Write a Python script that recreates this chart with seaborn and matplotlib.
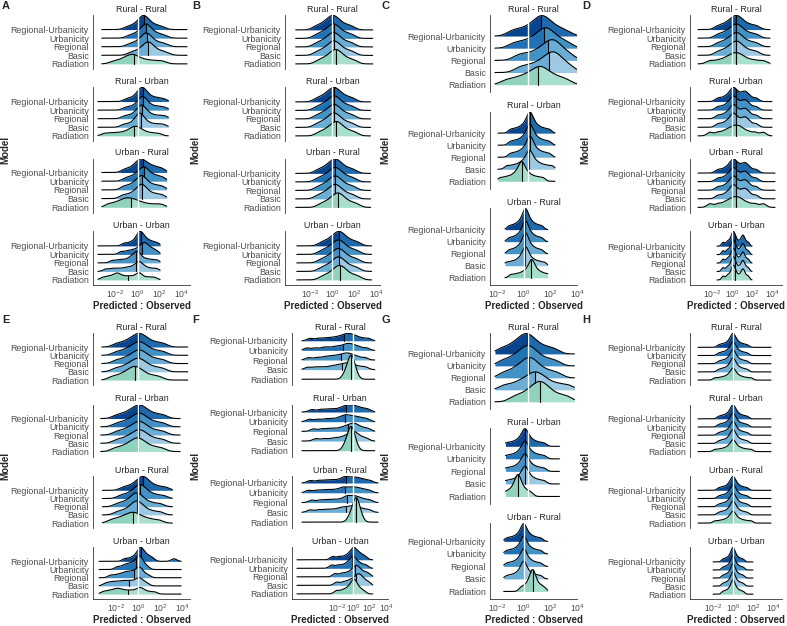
import numpy as np
import matplotlib
matplotlib.use("Agg")
import matplotlib.pyplot as plt
import seaborn as sns
from seaborn._statistics import KDE

# -- Labels --
models = ["Radiation", "Basic", "Regional", "Urbanicity", "Regional-Urbanicity"]
tick_values = [-2, 0, 2, 4]
tick_labels = ["$10^{-2}$", "$10^{0}$", "$10^{2}$", "$10^{4}$"]

panel_A = {
    "Rural - Rural": [
        [-2.2, -1.6, -1.2, -0.9, -0.7, -0.5, -0.3, -0.1, 0.2, 0.6, 1.1, 1.7, 2.3],
        [-0.6, -0.1, 0.3, 0.55, 0.75, 0.9, 0.95, 1.05, 1.2, 1.4, 1.7, 2.1, 2.6],
        [-0.7, -0.2, 0.2, 0.45, 0.6, 0.75, 0.8, 0.9, 1.05, 1.25, 1.55, 2.0, 2.5],
        [-0.7, -0.2, 0.2, 0.45, 0.6, 0.7, 0.77, 0.87, 1.0, 1.2, 1.5, 1.9, 2.4],
        [-0.9, -0.4, 0.0, 0.25, 0.4, 0.5, 0.55, 0.65, 0.8, 1.0, 1.3, 1.7, 2.2]],
    "Rural - Urban": [
        [-3.0, -2.4, -1.9, -1.4, -1.0, -0.7, -0.5, -0.3, -0.15, 0.0, 0.2, 0.45, 0.8, 1.3, 1.9],
        [-1.3, -0.8, -0.4, -0.15, 0.0, 0.1, 0.2, 0.25, 0.35, 0.5, 0.7, 1.0, 1.4, 1.9, 2.4],
        [-1.2, -0.7, -0.3, -0.05, 0.1, 0.25, 0.35, 0.4, 0.5, 0.65, 0.85, 1.1, 1.5, 2.0, 2.5],
        [-1.1, -0.6, -0.2, 0.05, 0.2, 0.35, 0.45, 0.5, 0.6, 0.75, 0.95, 1.2, 1.6, 2.0, 2.5],
        [-1.0, -0.5, -0.15, 0.05, 0.2, 0.3, 0.42, 0.5, 0.58, 0.7, 0.9, 1.15, 1.5, 1.9, 2.4]],
    "Urban - Rural": [
        [-2.7, -2.2, -1.8, -1.5, -1.25, -1.05, -0.85, -0.6, -0.4, -0.15, 0.15, 0.5, 1.0, 1.6, 2.2],
        [-1.4, -0.9, -0.5, -0.2, 0.0, 0.15, 0.3, 0.4, 0.5, 0.65, 0.85, 1.1, 1.45, 1.85, 2.3],
        [-1.3, -0.85, -0.45, -0.2, 0.0, 0.15, 0.3, 0.4, 0.5, 0.65, 0.85, 1.1, 1.45, 1.85, 2.3],
        [-1.1, -0.6, -0.25, 0.0, 0.2, 0.35, 0.5, 0.6, 0.7, 0.85, 1.05, 1.3, 1.6, 1.95, 2.35],
        [-1.2, -0.7, -0.35, -0.1, 0.05, 0.2, 0.33, 0.45, 0.6, 0.8, 1.0, 1.25, 1.55, 1.9, 2.3]],
    "Urban - Urban": [
        [-3.2, -2.8, -2.5, -2.2, -2.0, -1.85, -1.7, -1.5, -1.2, -0.9, -0.6, -0.3, 0.0, 0.1, 0.2, 0.4, 0.8, 1.2, 1.6],
        [-2.9, -2.4, -2.0, -1.6, -1.2, -0.9, -0.6, -0.35, -0.15, 0.0, 0.1, 0.2, 0.3, 0.5, 0.7, 1.0, 1.4, 1.8],
        [-2.3, -1.8, -1.4, -1.0, -0.7, -0.5, -0.35, -0.2, -0.1, 0.0, 0.1, 0.2, 0.4, 0.7, 1.0, 1.4, 1.8],
        [-1.5, -1.0, -0.6, -0.3, 0.0, 0.2, 0.35, 0.5, 0.6, 0.7, 0.85, 1.0, 1.2, 1.45, 1.75],
        [-1.2, -0.7, -0.35, -0.1, 0.05, 0.12, 0.2, 0.3, 0.4, 0.5, 0.65, 0.85, 1.1, 1.4, 1.8]],
}
panel_B = {
    "Rural - Rural": [
        [-1.25, -0.75, -0.4, -0.15, 0.05, 0.2, 0.35, 0.5, 0.65, 0.85, 1.15, 1.55, 2.05],
        [-1.4, -0.9, -0.55, -0.3, -0.1, 0.05, 0.2, 0.35, 0.5, 0.7, 1.0, 1.4, 1.9],
        [-1.45, -0.95, -0.6, -0.35, -0.15, 0.0, 0.15, 0.3, 0.45, 0.65, 0.95, 1.35, 1.85],
        [-1.45, -0.95, -0.6, -0.35, -0.15, 0.0, 0.15, 0.3, 0.45, 0.65, 0.95, 1.35, 1.85],
        [-1.5, -1.0, -0.65, -0.4, -0.2, -0.05, 0.1, 0.25, 0.4, 0.6, 0.9, 1.3, 1.8]],
    "Rural - Urban": [
        [-1.2, -0.7, -0.35, -0.1, 0.1, 0.25, 0.4, 0.55, 0.7, 0.9, 1.2, 1.6, 2.1],
        [-1.4, -0.9, -0.55, -0.3, -0.1, 0.05, 0.2, 0.35, 0.5, 0.7, 1.0, 1.4, 1.9],
        [-1.4, -0.9, -0.55, -0.3, -0.1, 0.05, 0.2, 0.35, 0.5, 0.7, 1.0, 1.4, 1.9],
        [-1.4, -0.9, -0.55, -0.3, -0.1, 0.05, 0.2, 0.35, 0.5, 0.7, 1.0, 1.4, 1.9],
        [-1.4, -0.9, -0.55, -0.3, -0.1, 0.05, 0.2, 0.35, 0.5, 0.7, 1.0, 1.4, 1.9]],
    "Urban - Rural": [
        [-1.05, -0.55, -0.2, 0.05, 0.25, 0.4, 0.55, 0.7, 0.85, 1.05, 1.35, 1.75, 2.25],
        [-1.3, -0.8, -0.45, -0.2, 0.0, 0.15, 0.3, 0.45, 0.6, 0.8, 1.1, 1.5, 2.0],
        [-1.3, -0.8, -0.45, -0.2, 0.0, 0.15, 0.3, 0.45, 0.6, 0.8, 1.1, 1.5, 2.0],
        [-1.3, -0.8, -0.45, -0.2, 0.0, 0.15, 0.3, 0.45, 0.6, 0.8, 1.1, 1.5, 2.0],
        [-1.3, -0.8, -0.45, -0.2, 0.0, 0.15, 0.3, 0.45, 0.6, 0.8, 1.1, 1.5, 2.0]],
    "Urban - Urban": [
        [-0.9, -0.4, -0.05, 0.2, 0.4, 0.55, 0.7, 0.85, 1.0, 1.2, 1.5, 1.9, 2.4],
        [-1.0, -0.5, -0.15, 0.1, 0.3, 0.45, 0.6, 0.75, 0.9, 1.1, 1.4, 1.8, 2.3],
        [-1.0, -0.5, -0.15, 0.1, 0.3, 0.45, 0.6, 0.75, 0.9, 1.1, 1.4, 1.8, 2.3],
        [-1.0, -0.5, -0.15, 0.1, 0.3, 0.45, 0.6, 0.75, 0.9, 1.1, 1.4, 1.8, 2.3],
        [-0.95, -0.45, -0.1, 0.15, 0.35, 0.5, 0.65, 0.8, 0.95, 1.15, 1.45, 1.85, 2.35]],
}
panel_C = {
    "Rural - Rural": [
        [-1.5, -0.9, -0.45, -0.1, 0.2, 0.45, 0.65, 0.8, 0.95, 1.15, 1.4, 1.7, 2.1, 2.6],
        [-0.6, -0.1, 0.35, 0.7, 1.0, 1.2, 1.4, 1.55, 1.7, 1.85, 2.0, 2.2, 2.5, 2.9],
        [-0.7, -0.2, 0.3, 0.65, 0.95, 1.15, 1.35, 1.5, 1.65, 1.8, 1.95, 2.15, 2.45, 2.85],
        [-1.0, -0.45, 0.0, 0.35, 0.65, 0.85, 1.0, 1.15, 1.3, 1.45, 1.65, 1.9, 2.25, 2.7],
        [-1.1, -0.6, -0.15, 0.2, 0.45, 0.65, 0.8, 0.95, 1.1, 1.25, 1.45, 1.75, 2.1, 2.6]],
    "Rural - Urban": [
        [-1.85, -1.52, -1.25, -1.02, -0.86, -0.72, -0.61, -0.53, -0.46, -0.42, -0.38, -0.31, -0.23, -0.12, 0.02, 0.18, 0.41, 0.68, 1.01],
        [-1.4, -1.05, -0.76, -0.53, -0.36, -0.21, -0.1, -0.02, 0.05, 0.1, 0.15, 0.22, 0.3, 0.41, 0.56, 0.73, 0.96, 1.25, 1.6],
        [-1.17, -0.87, -0.62, -0.42, -0.27, -0.14, -0.04, 0.03, 0.09, 0.13, 0.17, 0.23, 0.3, 0.4, 0.53, 0.68, 0.88, 1.13, 1.43],
        [-1.17, -0.87, -0.62, -0.42, -0.27, -0.14, -0.04, 0.03, 0.09, 0.13, 0.17, 0.23, 0.3, 0.4, 0.53, 0.68, 0.88, 1.13, 1.43],
        [-1.17, -0.87, -0.62, -0.42, -0.27, -0.14, -0.04, 0.03, 0.09, 0.13, 0.17, 0.23, 0.3, 0.4, 0.53, 0.68, 0.88, 1.13, 1.43]],
    "Urban - Rural": [
        [-0.96, -0.6, -0.3, -0.06, 0.12, 0.28, 0.4, 0.48, 0.55, 0.6, 0.65, 0.72, 0.8, 0.92, 1.08, 1.26, 1.5, 1.8, 2.16],
        [-1.3, -0.97, -0.7, -0.47, -0.31, -0.17, -0.06, 0.02, 0.09, 0.13, 0.17, 0.24, 0.32, 0.43, 0.57, 0.74, 0.96, 1.23, 1.56],
        [-1.11, -0.82, -0.58, -0.39, -0.25, -0.13, -0.03, 0.04, 0.09, 0.13, 0.17, 0.23, 0.29, 0.39, 0.51, 0.65, 0.84, 1.08, 1.37],
        [-1.11, -0.82, -0.58, -0.39, -0.25, -0.13, -0.03, 0.04, 0.09, 0.13, 0.17, 0.23, 0.29, 0.39, 0.51, 0.65, 0.84, 1.08, 1.37],
        [-1.11, -0.82, -0.58, -0.39, -0.25, -0.13, -0.03, 0.04, 0.09, 0.13, 0.17, 0.23, 0.29, 0.39, 0.51, 0.65, 0.84, 1.08, 1.37]],
}
panel_D = {
    "Rural - Rural": [
        [-2.2, -1.4, -0.8, -0.4, -0.08, 0.16, 0.4, 0.64, 0.88, 1.2, 1.68, 2.32, 3.12],
        [-1.45, -0.85, -0.45, -0.15, 0.09, 0.27, 0.45, 0.63, 0.81, 1.05, 1.41, 1.89, 2.49],
        [-1.45, -0.85, -0.45, -0.15, 0.09, 0.27, 0.45, 0.63, 0.81, 1.05, 1.41, 1.89, 2.49],
        [-1.45, -0.85, -0.45, -0.15, 0.09, 0.27, 0.45, 0.63, 0.81, 1.05, 1.41, 1.89, 2.49],
        [-1.45, -0.85, -0.45, -0.15, 0.09, 0.27, 0.45, 0.63, 0.81, 1.05, 1.41, 1.89, 2.49]],
    "Rural - Urban": [
        [-2.2, -1.4, -0.8, -0.4, -0.08, 0.16, 0.4, 0.64, 0.88, 1.2, 1.68, 2.32, 3.12],
        [-1.4, -0.8, -0.4, -0.1, 0.05, 0.15, 0.3, 0.5, 0.8, 1.1, 1.3, 1.45, 1.8, 2.4],
        [-1.4, -0.8, -0.4, -0.1, 0.05, 0.15, 0.3, 0.5, 0.8, 1.1, 1.3, 1.45, 1.8, 2.4],
        [-1.4, -0.8, -0.4, -0.1, 0.05, 0.15, 0.3, 0.5, 0.8, 1.1, 1.3, 1.45, 1.8, 2.4],
        [-1.4, -0.8, -0.4, -0.1, 0.05, 0.15, 0.3, 0.5, 0.8, 1.1, 1.3, 1.45, 1.8, 2.4]],
    "Urban - Rural": [
        [-2.2, -1.4, -0.8, -0.4, -0.08, 0.16, 0.4, 0.64, 0.88, 1.2, 1.68, 2.32, 3.12],
        [-1.4, -0.8, -0.4, -0.1, 0.05, 0.15, 0.3, 0.5, 0.8, 1.1, 1.3, 1.45, 1.8, 2.4],
        [-1.4, -0.8, -0.4, -0.1, 0.05, 0.15, 0.3, 0.5, 0.8, 1.1, 1.3, 1.45, 1.8, 2.4],
        [-1.4, -0.8, -0.4, -0.1, 0.05, 0.15, 0.3, 0.5, 0.8, 1.1, 1.3, 1.45, 1.8, 2.4],
        [-1.4, -0.8, -0.4, -0.1, 0.05, 0.15, 0.3, 0.5, 0.8, 1.1, 1.3, 1.45, 1.8, 2.4]],
    "Urban - Urban": [
        [-0.9, -0.5, -0.25, -0.05, 0.05, 0.12, 0.2, 0.3, 0.45, 0.7, 0.95, 1.05, 1.15, 1.3, 1.6],
        [-0.9, -0.5, -0.25, -0.05, 0.05, 0.12, 0.2, 0.3, 0.45, 0.7, 0.95, 1.05, 1.15, 1.3, 1.6],
        [-0.9, -0.5, -0.25, -0.05, 0.05, 0.12, 0.2, 0.3, 0.45, 0.7, 0.95, 1.05, 1.15, 1.3, 1.6],
        [-0.9, -0.5, -0.25, -0.05, 0.05, 0.12, 0.2, 0.3, 0.45, 0.7, 0.95, 1.05, 1.15, 1.3, 1.6],
        [-0.9, -0.5, -0.25, -0.05, 0.05, 0.12, 0.2, 0.3, 0.45, 0.7, 0.95, 1.05, 1.15, 1.3, 1.6]],
}
panel_E = {
    "Rural - Rural": [
        [-2.38, -1.73, -1.28, -0.95, -0.69, -0.5, -0.3, -0.1, 0.09, 0.35, 0.74, 1.26, 1.91],
        [-2.08, -1.43, -0.98, -0.65, -0.39, -0.2, 0.0, 0.2, 0.39, 0.65, 1.04, 1.56, 2.21],
        [-1.98, -1.33, -0.88, -0.55, -0.29, -0.1, 0.1, 0.3, 0.49, 0.75, 1.14, 1.66, 2.31],
        [-1.98, -1.33, -0.88, -0.55, -0.29, -0.1, 0.1, 0.3, 0.49, 0.75, 1.14, 1.66, 2.31],
        [-1.98, -1.33, -0.88, -0.55, -0.29, -0.1, 0.1, 0.3, 0.49, 0.75, 1.14, 1.66, 2.31]],
    "Rural - Urban": [
        [-2.13, -1.48, -1.03, -0.7, -0.44, -0.25, -0.05, 0.15, 0.34, 0.6, 0.99, 1.51, 2.16],
        [-1.98, -1.33, -0.88, -0.55, -0.29, -0.1, 0.1, 0.3, 0.49, 0.75, 1.14, 1.66, 2.31],
        [-1.98, -1.33, -0.88, -0.55, -0.29, -0.1, 0.1, 0.3, 0.49, 0.75, 1.14, 1.66, 2.31],
        [-1.98, -1.33, -0.88, -0.55, -0.29, -0.1, 0.1, 0.3, 0.49, 0.75, 1.14, 1.66, 2.31],
        [-1.98, -1.33, -0.88, -0.55, -0.29, -0.1, 0.1, 0.3, 0.49, 0.75, 1.14, 1.66, 2.31]],
    "Urban - Rural": [
        [-2.5, -1.9, -1.5, -1.15, -0.9, -0.65, -0.45, -0.25, 0.0, 0.3, 0.7, 1.2, 1.9],
        [-1.9, -1.3, -0.9, -0.6, -0.4, -0.25, -0.1, 0.05, 0.2, 0.45, 0.8, 1.3, 2.0],
        [-1.9, -1.3, -0.9, -0.6, -0.4, -0.25, -0.1, 0.05, 0.2, 0.45, 0.8, 1.3, 2.0],
        [-1.6, -1.0, -0.6, -0.3, -0.1, 0.05, 0.2, 0.35, 0.5, 0.75, 1.1, 1.6, 2.3],
        [-1.35, -0.75, -0.35, -0.05, 0.15, 0.3, 0.45, 0.6, 0.75, 1.0, 1.35, 1.85, 2.5]],
    "Urban - Urban": [
        [-3.2, -2.8, -2.5, -2.2, -2.0, -1.8, -1.6, -1.35, -1.05, -0.75, -0.45, -0.15, 0.05, 0.2, 0.35, 0.6, 1.0, 1.5],
        [-3.0, -2.6, -2.3, -2.0, -1.7, -1.45, -1.2, -0.95, -0.7, -0.45, -0.2, 0.0, 0.1, 0.25, 0.45, 0.8],
        [-2.5, -2.0, -1.6, -1.3, -1.05, -0.85, -0.6, -0.4, -0.2, 0.0, 0.08, 0.15, 0.3, 0.5, 0.9],
        [-1.9, -1.4, -1.1, -0.85, -0.6, -0.4, -0.2, -0.05, 0.05, 0.12, 0.2, 0.3, 0.5, 0.8],
        [-1.2, -0.7, -0.35, -0.1, 0.05, 0.15, 0.22, 0.3, 0.4, 0.55, 0.75, 1.0, 1.3, 3.25]],
}
panel_F = {
    "Rural - Rural": [
        [-1.0, -0.6, -0.4, -0.3, -0.25, -0.15, 0.0, 0.3],
        [-5.5, -4.6, -3.8, -3.0, -2.4, -1.9, -1.5, -1.1, -0.8, -0.5, -0.2, 0.2, 0.8, 1.5],
        [-5.4, -4.4, -3.6, -3.0, -2.5, -2.0, -1.6, -1.2, -0.9, -0.6, -0.3, 0.1, 0.6, 1.4],
        [-5.6, -4.6, -3.7, -3.1, -2.4, -1.9, -1.4, -1.0, -0.7, -0.4, -0.1, 0.3, 0.8, 1.6],
        [-5.2, -4.2, -3.4, -2.7, -2.1, -1.6, -1.2, -0.9, -0.6, -0.3, 0.0, 0.4, 1.0, 1.8]],
    "Rural - Urban": [
        [-1.0, -0.6, -0.4, -0.3, -0.25, -0.15, 0.0, 0.3],
        [-4.5, -3.5, -2.6, -1.9, -1.3, -0.9, -0.5, -0.3, -0.1, 0.1, 0.3, 0.6, 1.0, 1.6],
        [-4.8, -3.8, -3.0, -2.3, -1.6, -1.1, -0.7, -0.4, -0.1, 0.1, 0.4, 0.7, 1.2, 1.8],
        [-5.3, -4.3, -3.4, -2.7, -2.0, -1.5, -1.1, -0.9, -0.5, -0.2, 0.2, 0.6, 1.1, 1.7],
        [-5.0, -4.0, -3.2, -2.5, -1.8, -1.3, -0.9, -0.7, -0.3, 0.0, 0.3, 0.7, 1.2, 1.8]],
    "Urban - Rural": [
        [-0.4, 0.0, 0.2, 0.3, 0.35, 0.45, 0.6, 0.9],
        [-5.2, -4.2, -3.4, -2.7, -2.0, -1.5, -1.1, -0.7, -0.3, 0.0, 0.3, 0.7, 1.2, 1.9],
        [-5.0, -4.0, -3.2, -2.5, -1.8, -1.2, -0.8, -0.6, -0.2, 0.1, 0.4, 0.8, 1.3, 2.0],
        [-5.4, -4.4, -3.6, -2.9, -2.2, -1.6, -1.2, -0.9, -0.4, -0.1, 0.3, 0.7, 1.2, 1.9],
        [-5.2, -4.2, -3.4, -2.7, -2.0, -1.4, -1.0, -0.8, -0.3, 0.0, 0.4, 0.8, 1.3, 2.0]],
    "Urban - Urban": [
        [-2.0, -1.3, -0.8, -0.45, -0.2, 0.0, 0.1, 0.2, 0.4, 0.7, 1.2],
        [-2.0, -1.2, -0.6, -0.2, 0.2, 0.4, 0.6, 0.8, 1.0, 1.3, 1.8],
        [-2.2, -1.4, -0.8, -0.3, 0.0, 0.3, 0.4, 0.6, 0.9, 1.3, 1.8],
        [-2.6, -1.8, -1.1, -0.6, -0.3, -0.1, 0.0, 0.2, 0.5, 0.9, 1.5],
        [-2.5, -1.7, -1.0, -0.5, -0.2, 0.0, 0.1, 0.3, 0.6, 0.9, 1.4]],
}
panel_G = {
    "Rural - Rural": [
        [-0.96, -0.41, -0.03, 0.25, 0.47, 0.64, 0.8, 0.97, 1.13, 1.35, 1.68, 2.12, 2.67],
        [-1.58, -0.93, -0.48, -0.15, 0.11, 0.3, 0.5, 0.7, 0.89, 1.15, 1.54, 2.06, 2.71],
        [-1.66, -1.11, -0.73, -0.45, -0.23, -0.07, 0.1, 0.27, 0.43, 0.65, 0.98, 1.42, 1.97],
        [-1.76, -1.21, -0.83, -0.55, -0.33, -0.17, 0.0, 0.17, 0.33, 0.55, 0.88, 1.32, 1.87],
        [-1.86, -1.31, -0.93, -0.65, -0.43, -0.27, -0.1, 0.07, 0.23, 0.45, 0.78, 1.22, 1.77]],
    "Rural - Urban": [
        [-1.58, -1.37, -1.2, -1.06, -0.95, -0.86, -0.79, -0.74, -0.7, -0.67, -0.64, -0.6, -0.55, -0.48, -0.39, -0.29, -0.15, 0.03, 0.24],
        [-1.5, -1.2, -0.95, -0.75, -0.6, -0.47, -0.37, -0.3, -0.24, -0.2, -0.16, -0.1, -0.03, 0.07, 0.2, 0.35, 0.55, 0.8, 1.1],
        [-1.5, -1.2, -0.95, -0.75, -0.6, -0.47, -0.37, -0.3, -0.24, -0.2, -0.16, -0.1, -0.03, 0.07, 0.2, 0.35, 0.55, 0.8, 1.1],
        [-1.5, -1.2, -0.95, -0.75, -0.6, -0.47, -0.37, -0.3, -0.24, -0.2, -0.16, -0.1, -0.03, 0.07, 0.2, 0.35, 0.55, 0.8, 1.1],
        [-1.5, -1.2, -0.95, -0.75, -0.6, -0.47, -0.37, -0.3, -0.24, -0.2, -0.16, -0.1, -0.03, 0.07, 0.2, 0.35, 0.55, 0.8, 1.1]],
    "Urban - Rural": [
        [-0.24, -0.03, 0.15, 0.29, 0.39, 0.48, 0.55, 0.6, 0.64, 0.67, 0.7, 0.74, 0.79, 0.86, 0.95, 1.06, 1.2, 1.37, 1.58],
        [-1.3, -1.0, -0.75, -0.55, -0.4, -0.27, -0.17, -0.1, -0.04, 0.0, 0.04, 0.1, 0.17, 0.27, 0.4, 0.55, 0.75, 1.0, 1.3],
        [-1.3, -1.0, -0.75, -0.55, -0.4, -0.27, -0.17, -0.1, -0.04, 0.0, 0.04, 0.1, 0.17, 0.27, 0.4, 0.55, 0.75, 1.0, 1.3],
        [-1.3, -1.0, -0.75, -0.55, -0.4, -0.27, -0.17, -0.1, -0.04, 0.0, 0.04, 0.1, 0.17, 0.27, 0.4, 0.55, 0.75, 1.0, 1.3],
        [-1.3, -1.0, -0.75, -0.55, -0.4, -0.27, -0.17, -0.1, -0.04, 0.0, 0.04, 0.1, 0.17, 0.27, 0.4, 0.55, 0.75, 1.0, 1.3]],
}
panel_H = {
    "Rural - Rural": [
        [-1.82, -1.4, -1.05, -0.77, -0.56, -0.38, -0.24, -0.14, -0.06, 0.0, 0.06, 0.14, 0.24, 0.38, 0.56, 0.77, 1.05, 1.4, 1.82],
        [-1.43, -1.1, -0.83, -0.6, -0.44, -0.3, -0.19, -0.11, -0.04, 0.0, 0.04, 0.11, 0.19, 0.3, 0.44, 0.6, 0.83, 1.1, 1.43],
        [-1.43, -1.1, -0.83, -0.6, -0.44, -0.3, -0.19, -0.11, -0.04, 0.0, 0.04, 0.11, 0.19, 0.3, 0.44, 0.6, 0.83, 1.1, 1.43],
        [-1.43, -1.1, -0.83, -0.6, -0.44, -0.3, -0.19, -0.11, -0.04, 0.0, 0.04, 0.11, 0.19, 0.3, 0.44, 0.6, 0.83, 1.1, 1.43],
        [-1.43, -1.1, -0.83, -0.6, -0.44, -0.3, -0.19, -0.11, -0.04, 0.0, 0.04, 0.11, 0.19, 0.3, 0.44, 0.6, 0.83, 1.1, 1.43]],
    "Rural - Urban": [
        [-1.82, -1.4, -1.05, -0.77, -0.56, -0.38, -0.24, -0.14, -0.06, 0.0, 0.06, 0.14, 0.24, 0.38, 0.56, 0.77, 1.05, 1.4, 1.82],
        [-1.43, -1.1, -0.83, -0.6, -0.44, -0.3, -0.19, -0.11, -0.04, 0.0, 0.04, 0.11, 0.19, 0.3, 0.44, 0.6, 0.83, 1.1, 1.43],
        [-1.43, -1.1, -0.83, -0.6, -0.44, -0.3, -0.19, -0.11, -0.04, 0.0, 0.04, 0.11, 0.19, 0.3, 0.44, 0.6, 0.83, 1.1, 1.43],
        [-1.43, -1.1, -0.83, -0.6, -0.44, -0.3, -0.19, -0.11, -0.04, 0.0, 0.04, 0.11, 0.19, 0.3, 0.44, 0.6, 0.83, 1.1, 1.43],
        [-1.43, -1.1, -0.83, -0.6, -0.44, -0.3, -0.19, -0.11, -0.04, 0.0, 0.04, 0.11, 0.19, 0.3, 0.44, 0.6, 0.83, 1.1, 1.43]],
    "Urban - Rural": [
        [-1.82, -1.4, -1.05, -0.77, -0.56, -0.38, -0.24, -0.14, -0.06, 0.0, 0.06, 0.14, 0.24, 0.38, 0.56, 0.77, 1.05, 1.4, 1.82],
        [-1.43, -1.1, -0.83, -0.6, -0.44, -0.3, -0.19, -0.11, -0.04, 0.0, 0.04, 0.11, 0.19, 0.3, 0.44, 0.6, 0.83, 1.1, 1.43],
        [-1.43, -1.1, -0.83, -0.6, -0.44, -0.3, -0.19, -0.11, -0.04, 0.0, 0.04, 0.11, 0.19, 0.3, 0.44, 0.6, 0.83, 1.1, 1.43],
        [-1.43, -1.1, -0.83, -0.6, -0.44, -0.3, -0.19, -0.11, -0.04, 0.0, 0.04, 0.11, 0.19, 0.3, 0.44, 0.6, 0.83, 1.1, 1.43],
        [-1.43, -1.1, -0.83, -0.6, -0.44, -0.3, -0.19, -0.11, -0.04, 0.0, 0.04, 0.11, 0.19, 0.3, 0.44, 0.6, 0.83, 1.1, 1.43]],
    "Urban - Urban": [
        [-1.04, -0.8, -0.6, -0.44, -0.32, -0.22, -0.14, -0.08, -0.03, 0.0, 0.03, 0.08, 0.14, 0.22, 0.32, 0.44, 0.6, 0.8, 1.04],
        [-1.04, -0.8, -0.6, -0.44, -0.32, -0.22, -0.14, -0.08, -0.03, 0.0, 0.03, 0.08, 0.14, 0.22, 0.32, 0.44, 0.6, 0.8, 1.04],
        [-1.04, -0.8, -0.6, -0.44, -0.32, -0.22, -0.14, -0.08, -0.03, 0.0, 0.03, 0.08, 0.14, 0.22, 0.32, 0.44, 0.6, 0.8, 1.04],
        [-1.04, -0.8, -0.6, -0.44, -0.32, -0.22, -0.14, -0.08, -0.03, 0.0, 0.03, 0.08, 0.14, 0.22, 0.32, 0.44, 0.6, 0.8, 1.04],
        [-1.04, -0.8, -0.6, -0.44, -0.32, -0.22, -0.14, -0.08, -0.03, 0.0, 0.03, 0.08, 0.14, 0.22, 0.32, 0.44, 0.6, 0.8, 1.04]],
}

# -- range of the data in each facet (baseline extent), log10 --
span_A = [(-3.25, 4.5), (-3.6, 2.8), (-3.25, 2.65), (-3.6, 2.05)]
span_B = [(-3.3, 3.7), (-3.3, 3.5), (-3.3, 3.5), (-3.2, 3.6)]
span_C = [(-2.2, 3.25), (-2.0, 1.8), (-1.4, 1.8)]
span_D = [(-3.4, 3.8), (-3.4, 4.0), (-3.4, 4.3), (-1.5, 2.0)]
span_E = [(-3.3, 4.5), (-3.4, 3.8), (-3.25, 3.1), (-3.55, 3.9)]
span_F = [(-6.2, 2.6), (-6.2, 2.6), (-6.2, 3.0), (-6.8, 2.35)]
span_G = [(-2.2, 3.1), (-1.5, 2.1), (-1.5, 1.8)]
span_H = [(-3.5, 3.8), (-3.5, 3.8), (-3.5, 3.8), (-2.0, 2.0)]

# -- tallest ridge per facet, in rows --
peak_A = [1.65, 1.65, 1.65, 1.7]
peak_B = [1.7, 1.7, 1.7, 1.7]
peak_C = [1.7, 1.75, 1.75]
peak_D = [1.65, 1.65, 1.65, 1.75]
peak_E = [1.65, 1.65, 1.7, 1.7]
peak_F = [2.5, 2.5, 2.5, 1.7]
peak_G = [1.7, 1.75, 1.75]
peak_H = [1.7, 1.7, 1.7, 1.8]

# kernel bandwidth (log10 units) per facet
bw_A = [0.4, 0.32, 0.32, 0.25]
bw_B = [0.38, 0.38, 0.38, 0.38]
bw_C = [0.4, 0.17, 0.17]
bw_D = [0.38, 0.3, 0.3, 0.15]
bw_E = [0.42, 0.42, 0.38, 0.25]
bw_F = [0.38, 0.38, 0.38, 0.32]
bw_G = [0.38, 0.17, 0.17]
bw_H = [0.2, 0.2, 0.2, 0.15]

fill_low = ["#8fd3bf", "#6aaed6", "#4292c6", "#2171b5", "#08458f"]
fill_high = ["#a8dfce", "#9dc9e2", "#6aaed6", "#4292c6", "#1f69ad"]

sns.set_theme(style="white")
plt.rcParams["font.family"] = ["Liberation Sans", "DejaVu Sans"]
plt.rcParams["mathtext.default"] = "regular"

W, H = 787, 626
fig = plt.figure(figsize=(W / 100, H / 100), dpi=100)

# facet frames in pixels: (tops, height) for each row and facet count
frames = {
    (0, 4): ([15, 87, 158.5, 231], 54),
    (0, 3): ([15, 111.5, 208], 77),
    (1, 4): ([333, 404.5, 476, 547], 52),
    (1, 3): ([333, 428, 523], 76),
}


def ridge_density(samples, lo, hi, bw):
    x = np.asarray(samples, dtype=float)
    kde = KDE(bw_method=bw / x.std(ddof=1))
    kde.support = np.linspace(lo, hi, 400)
    dens, grid = kde(x)
    return grid, dens


def draw_panel(letter, data, spans, peaks, bws, px, xlim, row):
    x0, x1 = px
    names = list(data.keys())
    tops, h = frames[(row, len(names))]
    for k, name in enumerate(names):
        top = tops[k]
        ax = fig.add_axes([x0 / W, 1 - (top + h) / H, (x1 - x0) / W, h / H])
        lo, hi = spans[k]
        curves = [ridge_density(s, lo, hi, bws[k]) for s in data[name]]
        dmax = max(d.max() for _, d in curves)
        ytop = 0
        for i in range(4, -1, -1):
            grid, dens = curves[i]
            hgt = dens / dmax * peaks[k]
            base = i + 1
            ytop = max(ytop, base + hgt.max())
            cdf = np.cumsum(dens)
            cdf /= cdf[-1]
            med = np.interp(0.5, cdf, grid)
            z = (5 - i) * 3
            low = grid <= med
            ax.fill_between(grid[low], base, base + hgt[low], color=fill_low[i], lw=0, zorder=z)
            high = grid >= med - (grid[1] - grid[0])
            ax.fill_between(grid[high], base, base + hgt[high], color=fill_high[i], lw=0, zorder=z)
            ax.plot(grid, base + hgt, color="black", lw=0.8, zorder=z + 1)
            ax.plot([med, med], [base, base + np.interp(med, grid, hgt)],
                    color="black", lw=0.8, zorder=z + 1)
        ax.axvline(0, color="white", lw=1.0, zorder=50)
        ax.set_xlim(xlim)
        ax.set_ylim(0.4, ytop + 0.05)
        ax.set_yticks(range(1, 6))
        ax.set_yticklabels(models)
        ax.tick_params(axis="y", length=2, width=0.5, color="#333333", labelsize=6.4,
                       labelcolor="#4d4d4d", pad=1)
        for side in ["top", "right"]:
            ax.spines[side].set_visible(False)
        ax.spines["left"].set_color("#333333")
        ax.spines["left"].set_linewidth(0.6)
        ax.set_title(name, fontsize=6.4, pad=2.5)
        if k == len(names) - 1:
            ax.spines["bottom"].set_color("#333333")
            ax.spines["bottom"].set_linewidth(0.6)
            ax.set_xticks(tick_values)
            ax.set_xticklabels(tick_labels)
            ax.tick_params(axis="x", length=2, width=0.5, color="#333333", labelsize=6.2,
                           labelcolor="#4d4d4d", pad=0.5)
            ax.set_xlabel("Predicted : Observed", fontsize=7, fontweight="bold", labelpad=0.5)
        else:
            ax.spines["bottom"].set_visible(False)
            ax.set_xticks([])
    left = {0: 0, 1: 190, 2: 380, 3: 580}
    col = "ABCDEFGH".index(letter) % 4
    ytext = 6 if row == 0 else 320
    mid = (tops[0] + tops[-1] + h) / 2
    fig.text((left[col] + 2) / W, 1 - ytext / H, letter, fontsize=8,
             fontweight="bold", va="center", ha="left")
    fig.text((left[col] + 5) / W, 1 - mid / H, "Model", fontsize=7,
             fontweight="bold", rotation=90, va="center", ha="center")


draw_panel("A", panel_A, span_A, peak_A, bw_A, (93, 190), (-4.05, 4.77), 0)
draw_panel("B", panel_B, span_B, peak_B, bw_B, (285, 380), (-4.27, 4.36), 0)
draw_panel("C", panel_C, span_C, peak_C, bw_C, (490, 577), (-2.53, 3.27), 0)
draw_panel("D", panel_D, span_D, peak_D, bw_D, (690, 782), (-4.2, 5.0), 0)
draw_panel("E", panel_E, span_E, peak_E, bw_E, (93, 190), (-4.1, 4.7), 1)
draw_panel("F", panel_F, span_F, peak_F, bw_F, (292, 388), (-7.4, 4.2), 1)
draw_panel("G", panel_G, span_G, peak_G, bw_G, (490, 577), (-2.53, 3.27), 1)
draw_panel("H", panel_H, span_H, peak_H, bw_H, (690, 782), (-4.3, 4.9), 1)

fig.savefig("out.png", dpi=100)
